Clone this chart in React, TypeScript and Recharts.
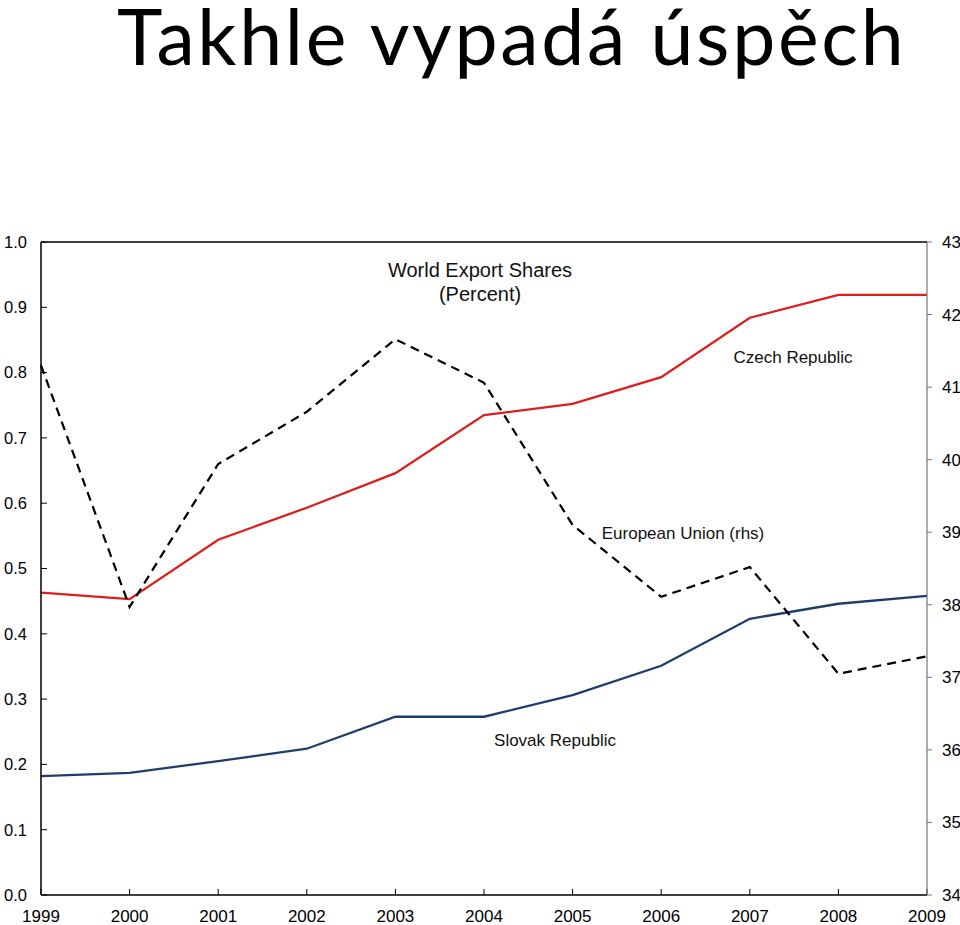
import { LineChart, Line, XAxis, YAxis, ReferenceLine } from 'recharts';

const years = ['1999', '2000', '2001', '2002', '2003', '2004', '2005', '2006', '2007', '2008', '2009'];
const czech = [0.463, 0.453, 0.544, 0.593, 0.646, 0.735, 0.752, 0.793, 0.884, 0.919, 0.919];
const slovak = [0.182, 0.187, 0.205, 0.224, 0.273, 0.273, 0.306, 0.351, 0.423, 0.446, 0.458];
const euShare = [41.3, 37.97, 39.94, 40.66, 41.66, 41.06, 39.1, 38.11, 38.52, 37.05, 37.29];

const leftTicks = [0, 0.1, 0.2, 0.3, 0.4, 0.5, 0.6, 0.7, 0.8, 0.9, 1.0];
const rightTicks = [34, 35, 36, 37, 38, 39, 40, 41, 42, 43];

const rows = years.map((year, i) => ({
  year,
  czech: czech[i],
  slovak: slovak[i],
  eu: euShare[i],
}));

const font = '"Liberation Sans", Arial, sans-serif';
const tickStyle = { fontSize: 17, fill: '#000', fontFamily: font };

const Note = ({ x, y, size = 17, children }: { x: number; y: number; size?: number; children: React.ReactNode }) => (
  <div
    style={{
      position: 'absolute',
      left: x - 150,
      top: y - 11,
      width: 300,
      textAlign: 'center',
      fontFamily: font,
      fontSize: size,
      lineHeight: '22px',
      color: '#111',
      whiteSpace: 'nowrap',
    }}
  >
    {children}
  </div>
);

export default function App() {
  return (
    <div style={{ position: 'absolute', left: 0, top: 0, width: 960, height: 925, background: '#fff' }}>
      <div
        style={{
          position: 'absolute',
          left: 117,
          top: 5,
          fontFamily: 'Lato, "Open Sans", sans-serif',
          fontSize: 77,
          lineHeight: 0.8,
          letterSpacing: 2.7,
          color: '#000',
          whiteSpace: 'nowrap',
        }}
      >
        Takhle vypadá úspěch
      </div>
      <div style={{ position: 'absolute', left: 0, top: 0 }}>
        <LineChart width={960} height={925} data={rows} margin={{ top: 242, right: 0, bottom: 0, left: 0 }}>
          <XAxis
            dataKey="year"
            height={30}
            padding={{ left: 0, right: 0 }}
            interval={0}
            tickSize={-6}
            tickMargin={21}
            tick={tickStyle}
            axisLine={{ stroke: '#000', strokeWidth: 1.5 }}
            tickLine={{ stroke: '#000' }}
          />
          <YAxis
            yAxisId="left"
            orientation="left"
            width={41}
            domain={[0, 1]}
            ticks={leftTicks}
            interval={0}
            tickFormatter={(v: number) => v.toFixed(1)}
            tickSize={-6}
            tickMargin={20}
            tick={{ ...tickStyle, fontSize: 16.5 }}
            axisLine={{ stroke: '#000', strokeWidth: 1.5 }}
            tickLine={{ stroke: '#000' }}
          />
          <YAxis
            yAxisId="right"
            orientation="right"
            width={33}
            domain={[34, 43]}
            ticks={rightTicks}
            interval={0}
            tickSize={5}
            tickMargin={10}
            tick={{ ...tickStyle, textAnchor: 'start' }}
            axisLine={{ stroke: '#777', strokeWidth: 1.2 }}
            tickLine={{ stroke: '#777' }}
          />
          <ReferenceLine yAxisId="left" y={1} stroke="#000" strokeWidth={1.5} />
          <Line
            yAxisId="left"
            dataKey="czech"
            stroke="#DC1F1C"
            strokeWidth={2.3}
            dot={false}
            type="linear"
            isAnimationActive={false}
          />
          <Line
            yAxisId="left"
            dataKey="slovak"
            stroke="#1F3D6B"
            strokeWidth={2.3}
            dot={false}
            type="linear"
            isAnimationActive={false}
          />
          <Line
            yAxisId="right"
            dataKey="eu"
            stroke="#000"
            strokeWidth={2.2}
            strokeDasharray="9 6"
            dot={false}
            type="linear"
            isAnimationActive={false}
          />
        </LineChart>
      </div>
      <Note x={480} y={270} size={20}>World Export Shares</Note>
      <Note x={480} y={294} size={20}>(Percent)</Note>
      <Note x={793} y={358}>Czech Republic</Note>
      <Note x={683} y={534}>European Union (rhs)</Note>
      <Note x={555} y={741}>Slovak Republic</Note>
    </div>
  );
}
